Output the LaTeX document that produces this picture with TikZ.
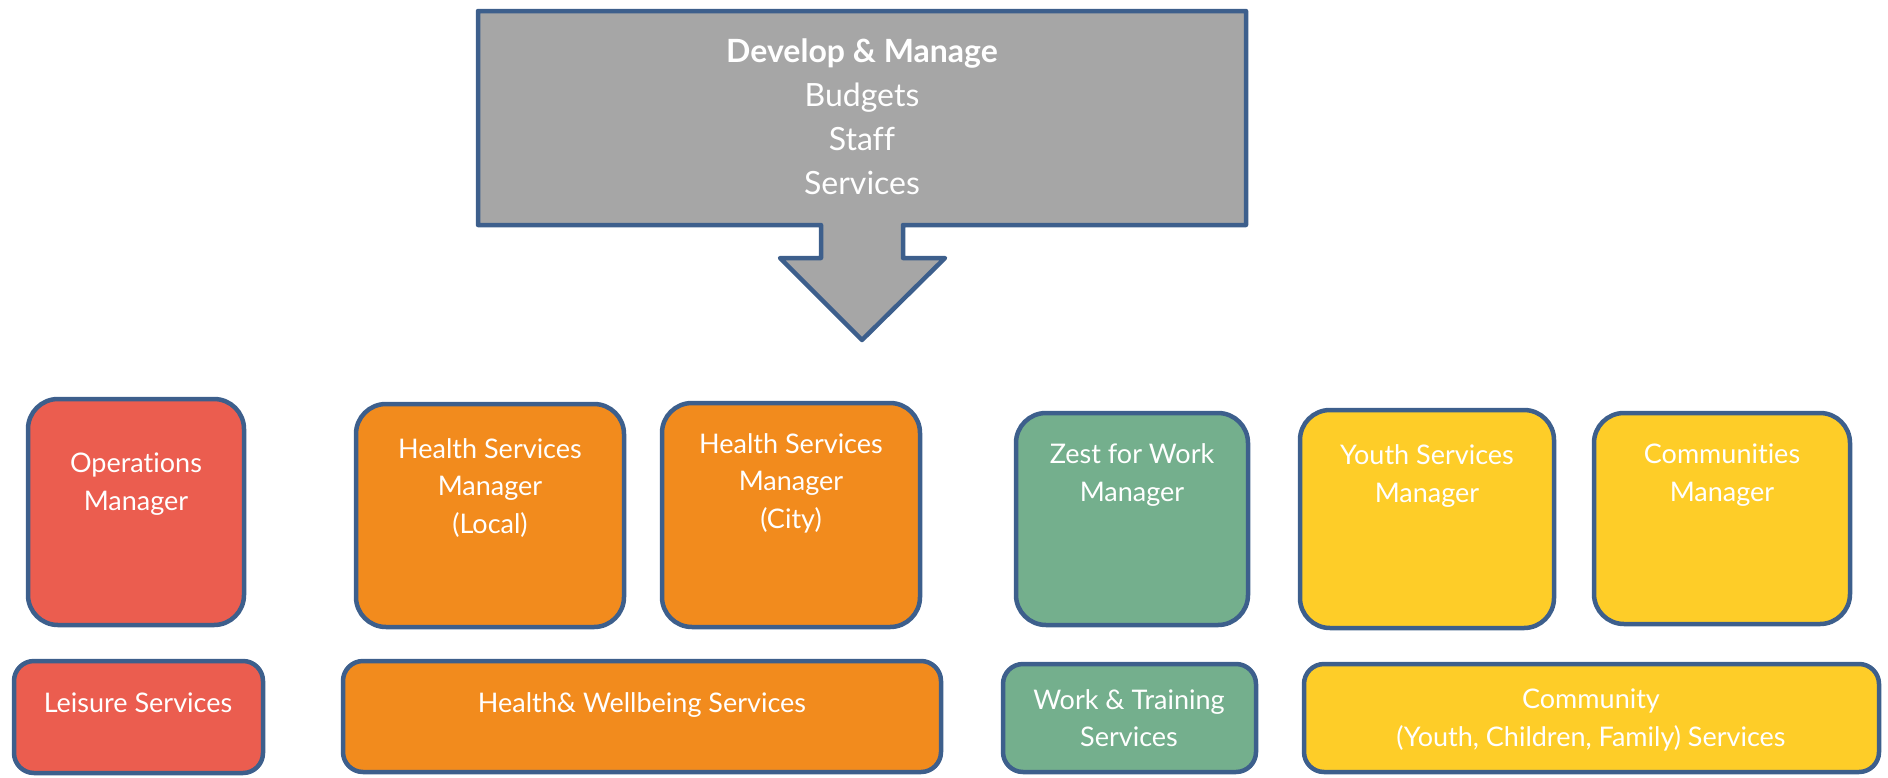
\documentclass[tikz,border=0pt]{standalone}
\usepackage{fontspec}
\setmainfont{Lato}[Ligatures=NoCommon]
\definecolor{edge}{HTML}{3D5F8C}
\definecolor{greyfill}{HTML}{A6A6A6}
\definecolor{redfill}{HTML}{EB5D4F}
\definecolor{orangefill}{HTML}{F28B1D}
\definecolor{greenfill}{HTML}{74AF8D}
\definecolor{yellowfill}{HTML}{FECD28}
\begin{document}
\begin{tikzpicture}[x=1pt,y=-1pt,
  mgrbox/.style={draw=edge,line width=4.5pt,rounded corners=30pt,inner sep=0pt},
  svcbox/.style={draw=edge,line width=4.5pt,rounded corners=20pt,inner sep=0pt},
  lbl/.style={text=white,align=center,font=\fontsize{27}{37.5}\selectfont,inner sep=0pt},
  toplbl/.style={text=white,align=center,font=\fontsize{32}{44}\selectfont,inner sep=0pt}]
\useasboundingbox (0,0) rectangle (1888,777);

% top callout with downward arrow
\draw[edge,line width=4.5pt,fill=greyfill,line join=round]
  (478,11) -- (1246,11) -- (1246,225) -- (903,225) -- (903,258) -- (945,258)
  -- (862,340) -- (780,258) -- (821,258) -- (821,225) -- (478,225) -- cycle;
\node[toplbl] (topT) at (862,117) {{\bfseries Develop \& Manage}\\Budgets\\Staff\\Services};

% manager boxes
\node[mgrbox,fill=redfill,minimum width=216pt,minimum height=226pt] (ops) at (136,512) {};
\node[mgrbox,fill=orangefill,minimum width=268pt,minimum height=223pt] (hlocal) at (490,515.5) {};
\node[mgrbox,fill=orangefill,minimum width=258pt,minimum height=224pt] (hcity) at (791,515) {};
\node[mgrbox,fill=greenfill,minimum width=232pt,minimum height=212pt] (zest) at (1132,519) {};
\node[mgrbox,fill=yellowfill,minimum width=254pt,minimum height=218pt] (youth) at (1427,519) {};
\node[mgrbox,fill=yellowfill,minimum width=256pt,minimum height=211pt] (comm) at (1722,518.5) {};

\node[lbl] (opsT) at (136,484) {Operations\\Manager};
\node[lbl] (hlocalT) at (490,488) {Health Services\\Manager\\(Local)};
\node[lbl] (hcityT) at (791,483) {Health Services\\Manager\\(City)};
\node[lbl] (zestT) at (1132,475) {Zest for Work\\Manager};
\node[lbl] (youthT) at (1427,476) {Youth Services\\Manager};
\node[lbl] (commT) at (1722,475) {Communities\\Manager};

% service boxes
\node[svcbox,fill=redfill,minimum width=249pt,minimum height=112pt] (leisure) at (138.5,717) {};
\node[svcbox,fill=orangefill,minimum width=598pt,minimum height=111pt] (hw) at (642,716.5) {};
\node[svcbox,fill=greenfill,minimum width=253pt,minimum height=108pt] (work) at (1129.5,718) {};
\node[svcbox,fill=yellowfill,minimum width=575pt,minimum height=108pt] (community) at (1591.5,718) {};

\node[lbl] (leisureT) at (138,703) {Leisure Services};
\node[lbl] (hwT) at (642,705) {Health\& Wellbeing Services};
\node[lbl] (workT) at (1129,718) {Work \& Training\\Services};
\node[lbl] (communityT) at (1591,720) {Community\\(Youth, Children, Family) Services};
\end{tikzpicture}
\end{document}
